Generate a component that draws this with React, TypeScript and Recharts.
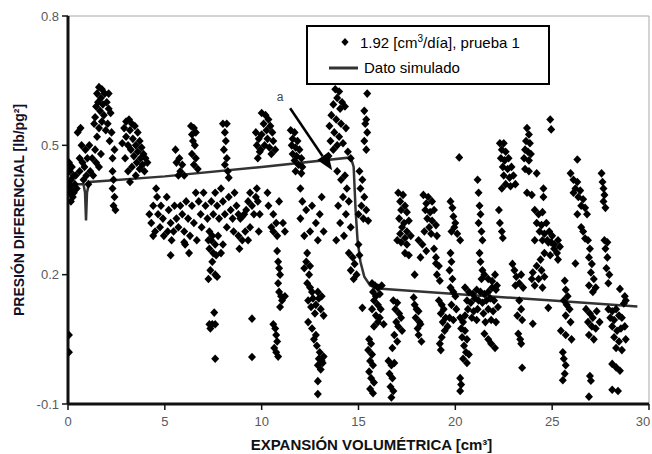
import {
  ComposedChart, Line, ReferenceDot, ReferenceLine, Scatter, XAxis, YAxis,
} from 'recharts'

// measured points, grouped by x range [cm3, lb/pg2]
const ptsA: [number, number][] = [
  [0.05, 0.46], [0.1, 0.44], [0.15, 0.42], [0.05, 0.41], [0.2, 0.4], [0.1, 0.39], [0.25, 0.38], [0.15, 0.37],
  [0.3, 0.43], [0.3, 0.39], [0.35, 0.41], [0.05, 0.06], [0.05, 0.02], [0.02, 0.44], [0.2, 0.45], [0.45, 0.4], [0.4, 0.43],
  [0.5, 0.53], [0.65, 0.54], [0.7, 0.5], [0.9, 0.49], [0.6, 0.47], [0.75, 0.46], [0.85, 0.45], [1.0, 0.47], [1.1, 0.5],
  [1.15, 0.44], [1.25, 0.47], [1.3, 0.43], [0.95, 0.43], [1.4, 0.49], [1.5, 0.52], [1.45, 0.46], [0.6, 0.44], [0.8, 0.42],
  [1.05, 0.41], [1.6, 0.45], [1.7, 0.48], [1.35, 0.55],
  [1.6, 0.635], [1.75, 0.63], [1.5, 0.62], [1.9, 0.62], [1.7, 0.61], [1.55, 0.6], [1.45, 0.59], [1.8, 0.595], [2.0, 0.6],
  [2.1, 0.585], [1.65, 0.58], [1.85, 0.57], [2.2, 0.575], [1.4, 0.565], [1.75, 0.555], [2.05, 0.55], [1.95, 0.535],
  [2.25, 0.53], [1.6, 0.54], [2.15, 0.51], [2.4, 0.49], [2.3, 0.47], [2.1, 0.62],
  [2.35, 0.42], [2.3, 0.4], [2.4, 0.38], [2.35, 0.36], [2.45, 0.35], [2.3, 0.44],
  [3.0, 0.555], [3.15, 0.56], [3.3, 0.55], [2.9, 0.54], [3.2, 0.535], [3.45, 0.545], [3.6, 0.53], [3.0, 0.52],
  [3.35, 0.515], [3.7, 0.51], [2.8, 0.505], [3.1, 0.5], [3.5, 0.5], [3.8, 0.495], [3.25, 0.49], [3.6, 0.485], [3.9, 0.48],
  [3.4, 0.475], [3.75, 0.47], [4.0, 0.47], [3.55, 0.46], [3.85, 0.455], [4.1, 0.46], [3.3, 0.45], [3.7, 0.445],
  [3.95, 0.44], [2.95, 0.47], [3.1, 0.44], [3.5, 0.43], [3.2, 0.415],
  [4.2, 0.34], [4.3, 0.32], [4.4, 0.36], [4.5, 0.3], [4.6, 0.38], [4.65, 0.34], [4.75, 0.31], [4.8, 0.36], [4.9, 0.33],
  [4.95, 0.29], [4.4, 0.29], [4.55, 0.4],
]

const ptsB: [number, number][] = [
  [5.55, 0.49], [5.6, 0.46], [5.75, 0.47], [5.8, 0.44], [5.9, 0.455], [6.0, 0.43], [5.7, 0.43],
  [6.35, 0.545], [6.5, 0.54], [6.4, 0.525], [6.6, 0.53], [6.45, 0.51], [6.55, 0.5], [6.4, 0.48], [6.6, 0.47],
  [6.5, 0.455], [6.7, 0.445],
  [8.0, 0.55], [8.2, 0.55], [8.1, 0.53], [8.15, 0.51], [8.05, 0.49], [8.2, 0.47], [8.1, 0.455], [8.25, 0.44], [8.3, 0.425],
  [9.7, 0.53], [9.85, 0.515], [9.75, 0.5], [9.9, 0.485], [9.8, 0.47],
  [5.1, 0.38], [5.2, 0.35], [5.3, 0.32], [5.15, 0.3], [5.35, 0.28], [5.5, 0.36], [5.6, 0.33], [5.7, 0.31], [5.8, 0.36],
  [5.9, 0.34], [6.0, 0.3], [6.1, 0.37], [6.2, 0.33], [6.3, 0.29], [6.05, 0.27], [6.4, 0.36], [6.5, 0.32], [6.6, 0.39],
  [6.75, 0.37], [6.85, 0.34], [6.9, 0.31], [7.0, 0.39], [7.1, 0.36], [7.2, 0.33], [7.3, 0.3], [7.4, 0.37], [7.5, 0.34],
  [7.45, 0.29], [7.6, 0.39], [7.7, 0.36], [7.8, 0.33], [7.9, 0.4], [8.0, 0.37], [8.1, 0.34], [8.2, 0.31], [8.3, 0.38],
  [8.4, 0.35], [8.5, 0.33], [8.6, 0.39], [8.7, 0.36], [8.8, 0.34], [8.9, 0.33], [9.0, 0.335], [9.1, 0.34], [9.2, 0.35],
  [9.3, 0.37], [9.4, 0.39], [9.5, 0.36], [9.6, 0.34], [9.7, 0.38], [8.55, 0.3], [8.8, 0.29], [9.15, 0.3], [9.4, 0.31],
  [7.25, 0.28], [7.75, 0.29], [6.65, 0.28], [5.45, 0.3],
  [5.3, 0.245], [6.25, 0.25], [6.0, 0.275],
  [7.4, 0.28], [7.6, 0.27], [7.3, 0.26], [7.5, 0.25], [7.65, 0.245], [7.45, 0.23], [7.35, 0.21], [7.6, 0.2],
  [7.7, 0.195], [7.25, 0.19], [7.9, 0.25], [8.0, 0.27],
  [7.55, 0.112], [7.3, 0.085], [7.45, 0.085], [7.6, 0.085], [7.35, 0.075], [7.6, 0.005], [9.5, 0.098], [9.5, 0.009],
  [8.85, 0.26], [9.0, 0.28], [9.3, 0.28],
]

const ptsC: [number, number][] = [
  [10.0, 0.575], [10.2, 0.57], [10.35, 0.56], [10.1, 0.55], [10.45, 0.545], [10.25, 0.535], [10.55, 0.53], [10.0, 0.525],
  [10.3, 0.515], [10.6, 0.51], [10.15, 0.5], [10.4, 0.495], [10.7, 0.49], [9.95, 0.49], [10.5, 0.48],
  [11.5, 0.535], [11.7, 0.53], [11.6, 0.515], [11.85, 0.51], [11.55, 0.5], [11.75, 0.495], [11.95, 0.49], [11.6, 0.48],
  [11.8, 0.475], [12.05, 0.47], [11.7, 0.465], [11.9, 0.455], [12.1, 0.45], [11.75, 0.44], [12.05, 0.435],
  [13.8, 0.63], [14.0, 0.625], [13.9, 0.61], [14.15, 0.6], [13.7, 0.595], [14.05, 0.585], [14.3, 0.59], [13.6, 0.57],
  [13.85, 0.56], [14.1, 0.55], [13.5, 0.545], [14.35, 0.54], [13.75, 0.53], [14.0, 0.52], [13.55, 0.51], [13.9, 0.5],
  [14.2, 0.505], [13.7, 0.49], [14.45, 0.485], [13.45, 0.475], [14.6, 0.47],
  [15.45, 0.62], [15.3, 0.58], [15.4, 0.56], [15.35, 0.55], [15.45, 0.53], [15.3, 0.51], [15.4, 0.49],
  [13.9, 0.44], [14.1, 0.42], [14.3, 0.43], [14.4, 0.4], [14.2, 0.38], [13.95, 0.36], [14.5, 0.37], [14.35, 0.34],
  [14.05, 0.32], [14.6, 0.31], [14.25, 0.29], [13.85, 0.28], [15.05, 0.44], [15.2, 0.42], [15.1, 0.4], [15.3, 0.38],
  [15.15, 0.36], [15.4, 0.35], [15.25, 0.33], [15.5, 0.325], [15.0, 0.34],
  [9.75, 0.4], [9.8, 0.37], [9.9, 0.34], [9.85, 0.3], [10.3, 0.39], [10.35, 0.36], [10.6, 0.34], [10.75, 0.32],
  [10.6, 0.3], [10.8, 0.29], [10.5, 0.31], [11.1, 0.32], [11.2, 0.3], [10.9, 0.37],
  [12.0, 0.4], [12.1, 0.37], [12.3, 0.35], [12.0, 0.33], [12.6, 0.36], [12.8, 0.32], [12.5, 0.3], [13.0, 0.34],
  [13.2, 0.3], [12.9, 0.28], [13.1, 0.38], [12.2, 0.29],
  [10.8, 0.255], [10.85, 0.23], [10.9, 0.215], [10.95, 0.2], [10.85, 0.18], [10.9, 0.16], [11.0, 0.15], [11.05, 0.14],
  [11.2, 0.15], [10.95, 0.125],
  [10.6, 0.085], [10.7, 0.075], [10.75, 0.06], [10.8, 0.045], [10.65, 0.03], [10.75, 0.02], [10.85, 0.01],
  [12.35, 0.25], [12.3, 0.23], [12.2, 0.215], [12.5, 0.22], [12.45, 0.2], [12.35, 0.18], [12.5, 0.17], [12.6, 0.16],
  [12.65, 0.145], [12.4, 0.14], [12.9, 0.16], [12.95, 0.145], [12.8, 0.13], [12.75, 0.11], [13.05, 0.12], [13.2, 0.105],
  [12.55, 0.125], [13.1, 0.15],
  [12.4, 0.09], [12.6, 0.075], [12.8, 0.06], [12.7, 0.05], [12.85, 0.035], [13.0, 0.02], [12.95, 0.005], [13.1, 0.0],
  [13.2, 0.01], [12.9, -0.01], [13.05, -0.02], [13.15, -0.005], [12.9, -0.047], [12.9, -0.077],
  [14.5, 0.25], [14.7, 0.24], [14.8, 0.225], [14.6, 0.21], [14.9, 0.2], [14.75, 0.19], [15.0, 0.27], [15.05, 0.245],
]

const ptsD: [number, number][] = [
  [15.2, 0.123],
  [15.7, 0.18], [15.85, 0.175], [16.0, 0.17], [16.2, 0.175], [15.75, 0.16], [15.9, 0.15], [16.1, 0.155], [15.8, 0.14],
  [16.0, 0.13], [15.7, 0.12], [16.15, 0.12], [15.9, 0.105], [16.1, 0.1], [16.3, 0.085], [16.0, 0.09], [15.8, 0.08],
  [15.55, 0.05], [15.65, 0.04], [15.5, 0.025], [15.7, 0.015], [15.6, 0.0], [15.75, -0.01], [15.55, -0.025],
  [15.65, -0.04], [15.8, -0.05], [15.6, -0.065], [15.75, -0.075],
  [16.55, 0.0], [16.7, -0.01], [16.85, -0.005], [16.6, -0.03], [16.75, -0.04], [16.65, -0.06], [16.8, -0.07], [16.7, -0.085],
  [16.8, 0.14], [17.0, 0.135], [16.9, 0.12], [17.1, 0.11], [17.2, 0.1], [16.95, 0.09], [17.05, 0.08], [17.25, 0.07],
  [16.85, 0.06], [17.0, 0.045], [16.75, 0.03],
  [17.85, 0.147], [17.9, 0.13], [18.0, 0.12], [18.1, 0.115], [17.95, 0.1], [18.15, 0.09], [18.2, 0.085], [18.05, 0.075],
  [18.1, 0.06], [18.25, 0.045],
  [19.15, 0.14], [19.3, 0.13], [19.4, 0.12], [19.25, 0.11], [19.5, 0.1], [19.35, 0.09], [19.6, 0.08], [19.45, 0.07],
  [19.3, 0.055], [19.2, 0.04], [19.25, 0.025], [19.7, 0.1],
  [17.0, 0.28], [17.2, 0.275], [17.5, 0.27], [17.4, 0.25], [17.6, 0.245], [18.1, 0.28], [18.3, 0.27], [18.5, 0.255],
  [18.2, 0.24], [17.9, 0.2], [19.0, 0.226],
  [17.05, 0.39], [17.3, 0.385], [17.15, 0.37], [17.4, 0.36], [17.2, 0.35], [17.5, 0.345], [17.1, 0.33], [17.35, 0.32],
  [17.6, 0.325], [17.25, 0.31], [17.5, 0.3], [17.15, 0.295], [17.7, 0.29], [17.4, 0.285],
  [18.35, 0.385], [18.6, 0.38], [18.5, 0.365], [18.8, 0.37], [18.45, 0.35], [18.7, 0.345], [18.9, 0.35], [18.55, 0.33],
  [18.8, 0.325], [18.65, 0.31], [19.0, 0.315], [18.4, 0.3], [18.75, 0.295], [19.05, 0.29],
  [18.9, 0.26], [19.0, 0.24], [19.15, 0.22], [19.05, 0.2], [19.2, 0.186],
  [19.85, 0.355], [19.9, 0.335], [20.0, 0.32], [19.95, 0.31], [20.1, 0.295],
]

const ptsE: [number, number][] = [
  [20.2, 0.472], [19.75, 0.37], [19.8, 0.3], [20.25, 0.28],
  [19.75, 0.25], [19.8, 0.23], [19.7, 0.21], [19.85, 0.19], [19.75, 0.17], [19.9, 0.16], [20.0, 0.15], [19.8, 0.13],
  [20.05, 0.12], [19.9, 0.095],
  [20.25, 0.1], [20.4, 0.09], [20.3, 0.075], [20.5, 0.07], [20.35, 0.055], [20.6, 0.05], [20.45, 0.035], [20.55, 0.02],
  [20.7, 0.015], [20.4, 0.005], [20.6, -0.005], [20.25, -0.04], [20.3, -0.055], [20.25, -0.07],
  [21.25, 0.25], [21.3, 0.23], [21.4, 0.21], [21.35, 0.19],
  [20.5, 0.17], [20.7, 0.16], [20.9, 0.155], [21.1, 0.165], [21.3, 0.16], [21.5, 0.155], [21.7, 0.16], [21.9, 0.17],
  [22.1, 0.165], [20.6, 0.14], [20.8, 0.135], [21.0, 0.145], [21.2, 0.14], [21.4, 0.135], [21.6, 0.14], [21.8, 0.145],
  [22.0, 0.14], [20.65, 0.12], [20.95, 0.115], [21.15, 0.12], [21.45, 0.11], [21.7, 0.12], [21.95, 0.115], [22.2, 0.125],
  [20.85, 0.1], [21.1, 0.095], [21.55, 0.09], [21.85, 0.095], [22.1, 0.09], [20.5, 0.105],
  [21.5, 0.2], [21.7, 0.19], [21.9, 0.185], [22.05, 0.2], [22.15, 0.175],
  [21.5, 0.063], [21.7, 0.05], [21.85, 0.04], [22.05, 0.03],
  [21.15, 0.42], [21.2, 0.39], [21.25, 0.36], [21.3, 0.34], [21.2, 0.32], [21.35, 0.3], [21.4, 0.28],
  [22.25, 0.35], [22.3, 0.32], [22.4, 0.3], [22.45, 0.285],
  [22.3, 0.505], [22.5, 0.505], [22.4, 0.49], [22.6, 0.485], [22.35, 0.47], [22.55, 0.465], [22.75, 0.47], [22.45, 0.45],
  [22.7, 0.445], [22.9, 0.45], [22.5, 0.43], [22.8, 0.425], [23.0, 0.43], [22.6, 0.41], [22.85, 0.405], [23.1, 0.41],
  [22.4, 0.4],
  [23.7, 0.54], [23.8, 0.525], [23.65, 0.51], [23.85, 0.505], [23.6, 0.49], [23.75, 0.485], [23.9, 0.48], [23.55, 0.47],
  [23.8, 0.465], [23.6, 0.445], [23.8, 0.44], [23.7, 0.39], [23.95, 0.385], [24.2, 0.435], [24.55, 0.4], [24.55, 0.38],
  [24.9, 0.56], [24.95, 0.537],
  [24.1, 0.35], [24.3, 0.34], [24.5, 0.345], [24.2, 0.32], [24.45, 0.315], [24.7, 0.32], [24.35, 0.3], [24.6, 0.295],
  [24.85, 0.3], [25.0, 0.29], [24.5, 0.28], [24.8, 0.275], [25.1, 0.27], [25.3, 0.28], [25.4, 0.265], [24.1, 0.28],
  [24.75, 0.28], [24.95, 0.275], [25.1, 0.26], [25.25, 0.25], [24.9, 0.245], [25.3, 0.235], [24.6, 0.25], [24.4, 0.235],
  [24.2, 0.22], [24.45, 0.21], [24.0, 0.205], [24.3, 0.19], [24.6, 0.195], [24.1, 0.175], [24.5, 0.17], [23.95, 0.19],
  [22.95, 0.225], [23.05, 0.21], [23.15, 0.195], [23.3, 0.18], [23.4, 0.2], [23.5, 0.17], [23.1, 0.175],
  [23.3, 0.14], [23.4, 0.12], [23.2, 0.105], [23.45, 0.095],
  [23.25, 0.063], [23.35, 0.05], [23.4, 0.04], [23.45, -0.016], [24.0, 0.086], [24.8, 0.123],
]

const ptsF: [number, number][] = [
  [25.95, 0.435], [26.3, 0.467], [26.1, 0.42], [26.3, 0.415], [26.2, 0.4], [26.45, 0.395], [26.35, 0.38], [26.6, 0.375],
  [26.5, 0.36], [26.7, 0.355], [26.1, 0.39], [26.8, 0.34], [26.3, 0.34], [26.5, 0.31], [26.6, 0.3],
  [27.55, 0.435], [27.6, 0.415], [27.65, 0.4], [27.7, 0.385], [27.65, 0.37], [27.75, 0.355],
  [26.7, 0.284], [27.85, 0.275], [26.2, 0.226],
  [25.65, 0.186], [25.7, 0.165], [25.8, 0.15], [25.75, 0.13], [25.9, 0.12], [25.7, 0.105], [25.95, 0.09], [25.6, 0.14],
  [25.45, 0.07], [25.7, 0.06], [26.0, 0.05], [25.55, 0.02], [25.6, 0.005], [25.7, -0.01], [25.65, -0.03], [25.55, -0.045],
  [26.85, 0.28], [26.95, 0.26], [26.9, 0.24], [27.05, 0.225], [27.0, 0.205], [27.15, 0.19], [26.9, 0.175], [27.1, 0.16],
  [27.25, 0.17],
  [26.75, 0.12], [26.95, 0.11], [27.1, 0.1], [27.3, 0.115], [26.85, 0.09], [27.05, 0.08], [27.25, 0.075], [27.45, 0.09],
  [26.9, 0.06], [27.15, 0.05], [26.95, -0.035], [27.0, -0.046], [26.9, -0.083],
  [27.7, 0.28], [27.75, 0.26], [27.85, 0.24], [27.8, 0.215], [27.95, 0.2], [27.9, 0.18],
  [28.5, 0.167], [28.7, 0.133], [28.75, 0.15], [28.8, 0.14],
  [27.9, 0.12], [28.1, 0.115], [28.3, 0.12], [28.0, 0.1], [28.2, 0.095], [28.45, 0.105], [28.6, 0.1], [28.1, 0.08],
  [28.35, 0.07], [28.55, 0.075], [28.75, 0.08], [28.2, 0.055], [28.45, 0.045], [28.8, 0.05], [28.3, 0.03], [28.6, 0.025],
  [28.1, -0.007], [28.3, -0.015], [28.5, -0.023], [28.1, -0.067], [28.4, -0.07],
]

// simulated curve
const simX = [0, 0.8, 0.88, 0.93, 0.98, 1.1, 2, 5, 10, 14.6, 14.75, 14.85, 14.95, 15.1, 15.3, 15.6, 16, 20, 25, 29.4]
const simY = [0.41, 0.41, 0.39, 0.326, 0.39, 0.415, 0.418, 0.428, 0.45, 0.472, 0.45, 0.35, 0.28, 0.23, 0.195, 0.175, 0.168, 0.155, 0.14, 0.126]

const xTicks = [0, 5, 10, 15, 20, 25, 30]
const yTicks = [-0.1, 0.2, 0.5, 0.8]

const measured = [...ptsA, ...ptsB, ...ptsC, ...ptsD, ...ptsE, ...ptsF].map(([x, y]) => ({ x, y }))
const simulated = simX.map((x, i) => ({ x, y: simY[i] }))

const FONT = '"Liberation Sans", Arial, sans-serif'

const Diamond = (props: any) => {
  const { cx, cy } = props
  if (cx == null || cy == null) return <g />
  return <polygon points={`${cx},${cy - 4.3} ${cx + 4},${cy} ${cx},${cy + 4.3} ${cx - 4},${cy}`} fill="#000" />
}

const Arrow = (props: any) => {
  const { x1, y1, x2, y2 } = props
  const a = Math.atan2(y2 - y1, x2 - x1)
  const L = 17
  const W = 6.5
  const bx = x2 - L * Math.cos(a)
  const by = y2 - L * Math.sin(a)
  const nx = -Math.sin(a)
  const ny = Math.cos(a)
  return (
    <g>
      <line x1={x1} y1={y1} x2={bx} y2={by} stroke="#000" strokeWidth={2.5} />
      <polygon points={`${x2},${y2} ${bx + nx * W},${by + ny * W} ${bx - nx * W},${by - ny * W}`} fill="#000" />
    </g>
  )
}

// last x tick sits on the right edge; nudge it in so it stays inside
const XTick = (props: any) => {
  const { x, y, payload } = props
  const last = payload.value === xTicks[xTicks.length - 1]
  return (
    <text x={last ? x - 6 : x} y={y} dy="0.71em" textAnchor="middle" fill="#5a5a5a" fontSize={13} fontFamily={FONT}>
      {payload.value}
    </text>
  )
}

export default function App() {
  return (
    <div style={{ position: 'absolute', left: 0, top: 0, width: 652, height: 454, background: '#fff', fontFamily: FONT }}>
      <ComposedChart width={652} height={454} margin={{ top: 16, right: 3, left: 0, bottom: 0 }}>
        <XAxis
          type="number" dataKey="x" domain={[0, 30]} ticks={xTicks} allowDataOverflow
          axisLine={{ stroke: '#111', strokeWidth: 3 }} tickLine={{ stroke: '#111', strokeWidth: 1.5 }}
          tickSize={6} tickMargin={7} height={50} interval={0}
          tick={<XTick />}
          label={{ value: 'EXPANSIÓN VOLUMÉTRICA [cm³]', position: 'insideBottom', offset: 4, dx: 13, fill: '#111', fontSize: 15, fontWeight: 'bold', fontFamily: FONT }}
        />
        <YAxis
          type="number" dataKey="y" domain={[-0.1, 0.8]} ticks={yTicks} allowDataOverflow
          axisLine={{ stroke: '#111', strokeWidth: 3 }} tickLine={{ stroke: '#111', strokeWidth: 1.5 }}
          tickSize={6} tickMargin={3} width={68} interval={0}
          tick={{ fill: '#5a5a5a', fontSize: 13, fontFamily: FONT }}
          label={{ value: 'PRESIÓN DIFERENCIAL [lb/pg²]', angle: -90, position: 'insideLeft', offset: 19, fill: '#10102a', fontSize: 14, fontWeight: 'bold', fontFamily: FONT, style: { textAnchor: 'middle' } }}
        />
        <ReferenceLine y={0.8} stroke="#a8a8a8" strokeWidth={1} />
        <ReferenceLine x={30} stroke="#a8a8a8" strokeWidth={1} />
        <Scatter data={measured} shape={Diamond} isAnimationActive={false} name="1.92 [cm³/día], prueba 1" />
        <Line
          data={simulated} dataKey="y" type="linear" stroke="#333" strokeWidth={2.5}
          dot={false} activeDot={false} isAnimationActive={false} name="Dato simulado"
        />
        <ReferenceLine segment={[{ x: 11.47, y: 0.586 }, { x: 13.64, y: 0.442 }]} shape={Arrow} />
        <ReferenceDot x={10.95} y={0.612} r={0} stroke="none" label={{ value: 'a', position: 'center', fill: '#444', fontSize: 12, fontFamily: FONT }} />
      </ComposedChart>
      <div
        style={{
          position: 'absolute', left: 306, top: 25, width: 240, height: 56,
          border: '2px solid #000', background: '#fff', fontSize: 15, color: '#000',
        }}
      >
        <div style={{ position: 'absolute', left: 32, top: 6, whiteSpace: 'nowrap', display: 'flex', alignItems: 'center' }}>
          <svg width={10} height={10} style={{ marginRight: 10 }}>
            <polygon points="5,1 8.6,5 5,9 1.4,5" fill="#000" />
          </svg>
          <span>1.92 [cm<sup style={{ fontSize: 10 }}>3</sup>/día], prueba 1</span>
        </div>
        <div style={{ position: 'absolute', left: 21, top: 32, whiteSpace: 'nowrap', display: 'flex', alignItems: 'center' }}>
          <svg width={30} height={6} style={{ marginRight: 5 }}>
            <line x1={0} y1={3} x2={29} y2={3} stroke="#333" strokeWidth={3} />
          </svg>
          <span>Dato simulado</span>
        </div>
      </div>
    </div>
  )
}
